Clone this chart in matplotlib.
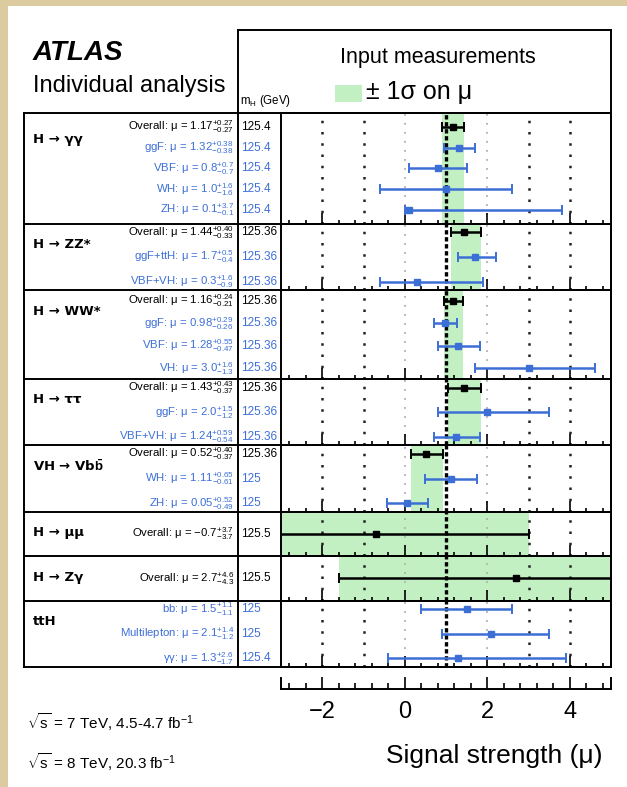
import matplotlib
matplotlib.use('Agg')
import matplotlib.pyplot as plt
from matplotlib.patches import Rectangle
from matplotlib.ticker import MultipleLocator, FixedLocator
from matplotlib.transforms import blended_transform_factory

plt.rcParams['font.family'] = ['Liberation Sans', 'DejaVu Sans']
plt.rcParams['mathtext.fontset'] = 'custom'
plt.rcParams['mathtext.rm'] = 'Liberation Sans'
plt.rcParams['mathtext.it'] = 'Liberation Sans:italic'
plt.rcParams['mathtext.bf'] = 'Liberation Sans:bold'

# ---------------- data ----------------
section_titles = ['H → γγ', 'H → ZZ*', 'H → WW*', 'H → ττ',
                  r'VH → Vb$\mathbf{\bar{b}}$', 'H → μμ', 'H → Zγ', 'ttH']
section_rows = [5, 3, 4, 3, 3, 1, 1, 3]
section_has_overall = [True, True, True, True, True, True, True, False]

row_labels = ['Overall', 'ggF', 'VBF', 'WH', 'ZH',
              'Overall', 'ggF+ttH', 'VBF+VH',
              'Overall', 'ggF', 'VBF', 'VH',
              'Overall', 'ggF', 'VBF+VH',
              'Overall', 'WH', 'ZH',
              'Overall',
              'Overall',
              r'$\mathrm{b\bar{b}}$', 'Multilepton', 'γγ']
mu_values = [1.17, 1.32, 0.8, 1.0, 0.1,
             1.44, 1.7, 0.3,
             1.16, 0.98, 1.28, 3.0,
             1.43, 2.0, 1.24,
             0.52, 1.11, 0.05,
             -0.7,
             2.7,
             1.5, 2.1, 1.3]
err_up = [0.27, 0.38, 0.7, 1.6, 3.7,
          0.40, 0.5, 1.6,
          0.24, 0.29, 0.55, 1.6,
          0.43, 1.5, 0.59,
          0.40, 0.65, 0.52,
          3.7,
          4.6,
          1.1, 1.4, 2.6]
err_down = [0.27, 0.38, 0.7, 1.6, 0.1,
            0.33, 0.4, 0.9,
            0.21, 0.26, 0.47, 1.3,
            0.37, 1.2, 0.54,
            0.37, 0.61, 0.49,
            3.7,
            4.3,
            1.1, 1.2, 1.7]
decimals = [2, 2, 1, 1, 1,
            2, 1, 1,
            2, 2, 2, 1,
            2, 1, 2,
            2, 2, 2,
            1,
            1,
            1, 1, 1]
masses = [125.4, 125.4, 125.4, 125.4, 125.4,
          125.36, 125.36, 125.36,
          125.36, 125.36, 125.36, 125.36,
          125.36, 125.36, 125.36,
          125.36, 125, 125,
          125.5,
          125.5,
          125, 125, 125.4]
x_range = [-3, 5]
major_ticks = [-2, 0, 2, 4]
sm_value = 1.0
dark_dotted = [-2, -1, 3, 4]
light_dotted = [0, 2]

# ---------------- style ----------------
GREEN = '#c3f0c3'
BLUE = '#3c6fd6'
TXTBLUE = '#3d6fd8'
W, H = 627, 787

fig = plt.figure(figsize=(W / 100, H / 100), dpi=100)
fig.patch.set_facecolor('#dccb9e')

ov = fig.add_axes([0, 0, 1, 1], zorder=0)
ov.set_xlim(0, W); ov.set_ylim(H, 0); ov.axis('off')
ov.add_patch(Rectangle((8, 6), W - 8, H - 6, facecolor='white', edgecolor='none'))

top_ov = fig.add_axes([0, 0, 1, 1], zorder=10)
top_ov.set_xlim(0, W); top_ov.set_ylim(H, 0); top_ov.axis('off')
top_ov.patch.set_alpha(0)

PL, PR = 281, 611
TOP, BOT = 113, 667
units = [max(n, 2) for n in section_rows]
unit = (BOT - TOP) / sum(units)
bounds = [TOP]
for u in units:
    bounds.append(bounds[-1] + u * unit)

pads = {1: 1.0, 3: 0.35, 4: 0.47, 5: 0.66}

idx = 0
for s, n in enumerate(section_rows):
    t, b = bounds[s], bounds[s + 1]
    ax = fig.add_axes([PL / W, 1 - b / H, (PR - PL) / W, (b - t) / H], zorder=2)
    ax.set_xlim(*x_range)
    p = pads[n]
    ax.set_ylim(n - 1 + p, -p)
    ax.set_yticks([])
    ax.xaxis.set_major_locator(FixedLocator(major_ticks))
    ax.xaxis.set_minor_locator(MultipleLocator(0.4))
    ax.tick_params(axis='x', which='both', direction='in', bottom=True, top=False,
                   labelbottom=False, width=1.2)
    ax.tick_params(axis='x', which='major', length=8)
    ax.tick_params(axis='x', which='minor', length=3)
    for sp in ax.spines.values():
        sp.set_linewidth(1.4)

    if section_has_overall[s]:
        ax.axvspan(mu_values[idx] - err_down[idx], mu_values[idx] + err_up[idx],
                   color=GREEN, lw=0, zorder=0.5)
    for xv in dark_dotted:
        ax.axvline(xv, color='#222222', lw=1.8, ls=(0, (1, 3.5)), zorder=1)
    for xv in light_dotted:
        ax.axvline(xv, color='#b0b0b0', lw=1.3, ls=(0, (1, 4)), zorder=1)
    ax.axvline(sm_value, color='black', lw=2.4, ls=(0, (1.3, 0.8)), zorder=2)

    trans = blended_transform_factory(ov.transData, ax.transData)
    for i in range(n):
        k = idx + i
        overall = section_has_overall[s] and i == 0
        c = 'black' if overall else BLUE
        tc = 'black' if overall else TXTBLUE
        ax.errorbar(mu_values[k], i, xerr=[[err_down[k]], [err_up[k]]], fmt='s',
                    color=c, ms=4, elinewidth=1.8, capsize=3.5, capthick=1.4, zorder=4)
        d = decimals[k]
        lab = (f'{row_labels[k]}: μ = ' +
               f'${mu_values[k]:.{d}f}^{{+{err_up[k]:.{d}f}}}_{{-{err_down[k]:.{d}f}}}$')
        ax.text(234, i, lab, transform=trans, ha='right', va='center',
                fontsize=8.2, color=tc, clip_on=False)
        ax.text(241, i, f'{masses[k]:g}', transform=trans, ha='left', va='center',
                fontsize=8.5, color=tc, clip_on=False)
    ty = t + (27 if s == 0 else 21)
    ov.text(33, ty, section_titles[s], fontsize=9.5, fontweight='bold',
            family=['DejaVu Sans'], ha='left', va='center')
    idx += n

# bottom axis strip
axb = fig.add_axes([PL / W, 1 - 689 / H, (PR - PL) / W, 11 / H], zorder=2)
axb.set_xlim(*x_range)
axb.set_yticks([])
axb.patch.set_alpha(0)
axb.spines['top'].set_visible(False)
for sp in axb.spines.values():
    sp.set_linewidth(1.4)
axb.xaxis.set_major_locator(FixedLocator(major_ticks))
axb.xaxis.set_minor_locator(MultipleLocator(0.4))
axb.tick_params(axis='x', which='both', direction='in', width=1.2, labelsize=17, pad=9)
axb.tick_params(axis='x', which='major', length=9)
axb.tick_params(axis='x', which='minor', length=4)

# table lines
lw = 1.4
for yb in bounds:
    top_ov.plot([24, PR], [yb, yb], color='black', lw=lw, solid_capstyle='projecting')
top_ov.plot([24, 24], [TOP, BOT], color='black', lw=lw)
top_ov.plot([238, 238], [30, BOT], color='black', lw=lw)
top_ov.plot([238, PR], [30, 30], color='black', lw=lw)
top_ov.plot([PR, PR], [30, BOT], color='black', lw=lw)

# header / legend
ov.text(33, 53, 'ATLAS', fontsize=20, fontweight='bold', fontstyle='italic',
        ha='left', va='center')
ov.text(33, 86, 'Individual analysis', fontsize=17, ha='left', va='center')
ov.text(240, 101, r'm$_{\mathrm{H}}$ (GeV)', fontsize=8.3, ha='left', va='center')
ov.text(438, 58, 'Input measurements', fontsize=15.5, ha='center', va='center')
ov.add_patch(Rectangle((335, 85), 27, 17, facecolor=GREEN, edgecolor='none'))
ov.text(366, 92, '± 1σ on μ', fontsize=18, ha='left', va='center')

# energy texts and axis label
ov.text(27, 722, r'$\sqrt{\mathrm{s}}$ = 7 TeV, 4.5-4.7 fb$^{-1}$', fontsize=11,
        ha='left', va='center')
ov.text(27, 762, r'$\sqrt{\mathrm{s}}$ = 8 TeV, 20.3 fb$^{-1}$', fontsize=11,
        ha='left', va='center')
ov.text(602, 756, 'Signal strength (μ)', fontsize=19, ha='right', va='center')

fig.savefig('out.png', dpi=100, facecolor=fig.get_facecolor())
